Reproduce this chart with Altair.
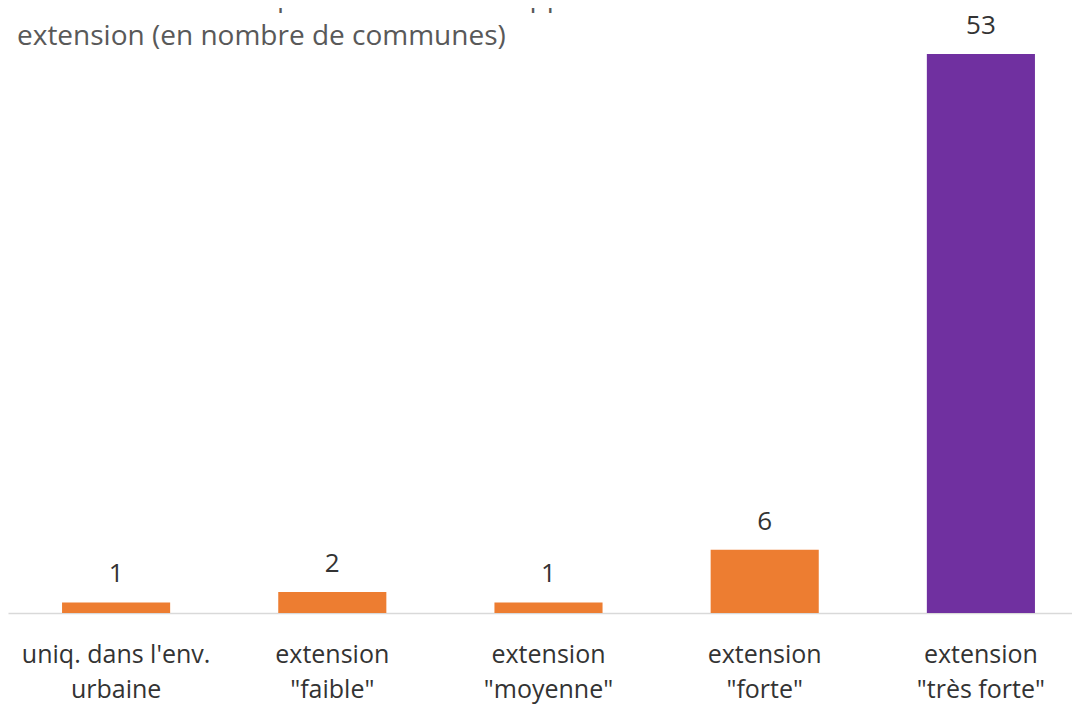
import altair as alt
import pandas as pd

categories = [
    "uniq. dans l'env.\nurbaine",
    'extension\n"faible"',
    'extension\n"moyenne"',
    'extension\n"forte"',
    'extension\n"très forte"',
]
values = [1, 2, 1, 6, 53]
groups = ["normal", "normal", "normal", "normal", "highlight"]
title_lines = [
    "Consommation d'espaces dans l'enveloppe urbaine ou en",
    "extension (en nombre de communes)",
]

df = pd.DataFrame({"cat": categories, "value": values, "group": groups})
tdf = pd.DataFrame({"t": ["\n".join(title_lines)]})

x = alt.X(
    "cat:N",
    sort=None,
    title=None,
    scale=alt.Scale(range=[0, 1081], paddingInner=0.5, paddingOuter=0.25),
    axis=alt.Axis(
        labelExpr="split(datum.label, '\\n')",
        labelAngle=0,
        labelBaseline="alphabetic",
        labelPadding=49,
        labelLineHeight=35,
        labelFont="Open Sans",
        labelFontSize=25,
        labelColor="#333333",
        labelLimit=400,
        labelOverlap=False,
        ticks=False,
        grid=False,
        domainColor="#D9D9D9",
        domainWidth=1.5,
    ),
)
y = alt.Y("value:Q", title=None, axis=None,
          scale=alt.Scale(domain=[0, 57.36], nice=False, zero=True))

bars = alt.Chart(df).mark_bar().encode(
    x=x,
    y=y,
    color=alt.Color("group:N", legend=None,
                    scale=alt.Scale(domain=["normal", "highlight"],
                                    range=["#ED7D31", "#7030A0"])),
)
labels = alt.Chart(df).mark_text(
    baseline="alphabetic", dy=-20, font="Open Sans", fontSize=26, color="#333333"
).encode(x=x, y=y, text="value:Q")

title = alt.Chart(tdf).mark_text(
    align="left", baseline="alphabetic", font="Open Sans", fontSize=28,
    color="#595959", lineBreak="\n", lineHeight=39,
).encode(x=alt.value(9), y=alt.value(-2), text="t:N")

chart = alt.layer(bars, labels, title).properties(
    width=1064,
    height=605,
    autosize=alt.AutoSizeParams(type="none"),
    padding={"left": 0, "top": 0, "right": 0, "bottom": 104},
).configure_view(stroke=None)

chart.save("out.html", embed_options={"renderer": "svg", "actions": False})
